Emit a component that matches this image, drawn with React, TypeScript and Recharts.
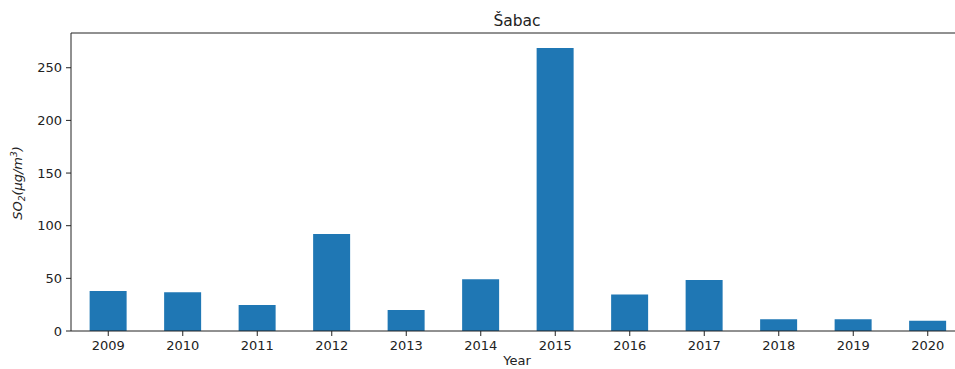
import React from "react";
import { BarChart, Bar, XAxis, YAxis, ReferenceLine, Customized } from "recharts";

// Annual mean SO2 concentration, Šabac
const years: string[] = ["2009", "2010", "2011", "2012", "2013", "2014", "2015", "2016", "2017", "2018", "2019", "2020"];
const so2Values: number[] = [38.1, 36.8, 24.7, 92.0, 20.0, 49.2, 268.7, 34.6, 48.5, 11.1, 11.1, 9.8];
const yTicks: number[] = [0, 50, 100, 150, 200, 250];
const yMax = 283;

const chartTitle = "Šabac";
const xLabel = "Year";

const data = years.map((year, i) => ({ year, so2: so2Values[i] }));

const FONT = "DejaVu Sans, sans-serif";
const AXIS = "#222";

function Annotations() {
  return (
    <g fontFamily={FONT} fill="#222">
      <text x={517} y={26} textAnchor="middle" fontSize={15.5}>
        {chartTitle}
      </text>
      <text x={517} y={365} textAnchor="middle" fontSize={13}>
        {xLabel}
      </text>
      <text
        x={0}
        y={0}
        transform="translate(22,183) rotate(-90)"
        textAnchor="middle"
        fontSize={13}
        fontStyle="italic"
      >
        <tspan>SO</tspan>
        <tspan fontSize={9} dy={3}>2</tspan>
        <tspan dy={-3}>(μg/m</tspan>
        <tspan fontSize={9} dy={-5}>3</tspan>
        <tspan dy={5}>)</tspan>
      </text>
    </g>
  );
}

export default function App() {
  return (
    <div
      style={{
        position: "fixed",
        left: 0,
        top: 0,
        width: 955,
        height: 369,
        overflow: "hidden",
        background: "#fff",
      }}
    >
      <BarChart
        width={1000}
        height={369}
        data={data}
        margin={{ top: 33, right: 35, bottom: 0, left: 0 }}
        barCategoryGap="25%"
      >
        <XAxis
          dataKey="year"
          height={38}
          tickSize={5}
          tickMargin={5}
          axisLine={{ stroke: AXIS }}
          tickLine={{ stroke: AXIS }}
          tick={{ fill: "#222", fontSize: 13, fontFamily: FONT }}
          interval={0}
        />
        <YAxis
          width={71}
          domain={[0, yMax]}
          ticks={yTicks}
          tickSize={5}
          tickMargin={4}
          axisLine={{ stroke: AXIS }}
          tickLine={{ stroke: AXIS }}
          tick={{ fill: "#222", fontSize: 13, fontFamily: FONT }}
        />
        <ReferenceLine y={yMax} stroke={AXIS} strokeWidth={1} />
        <Bar dataKey="so2" fill="#1f77b4" isAnimationActive={false} />
        <Customized component={Annotations} />
      </BarChart>
    </div>
  );
}
